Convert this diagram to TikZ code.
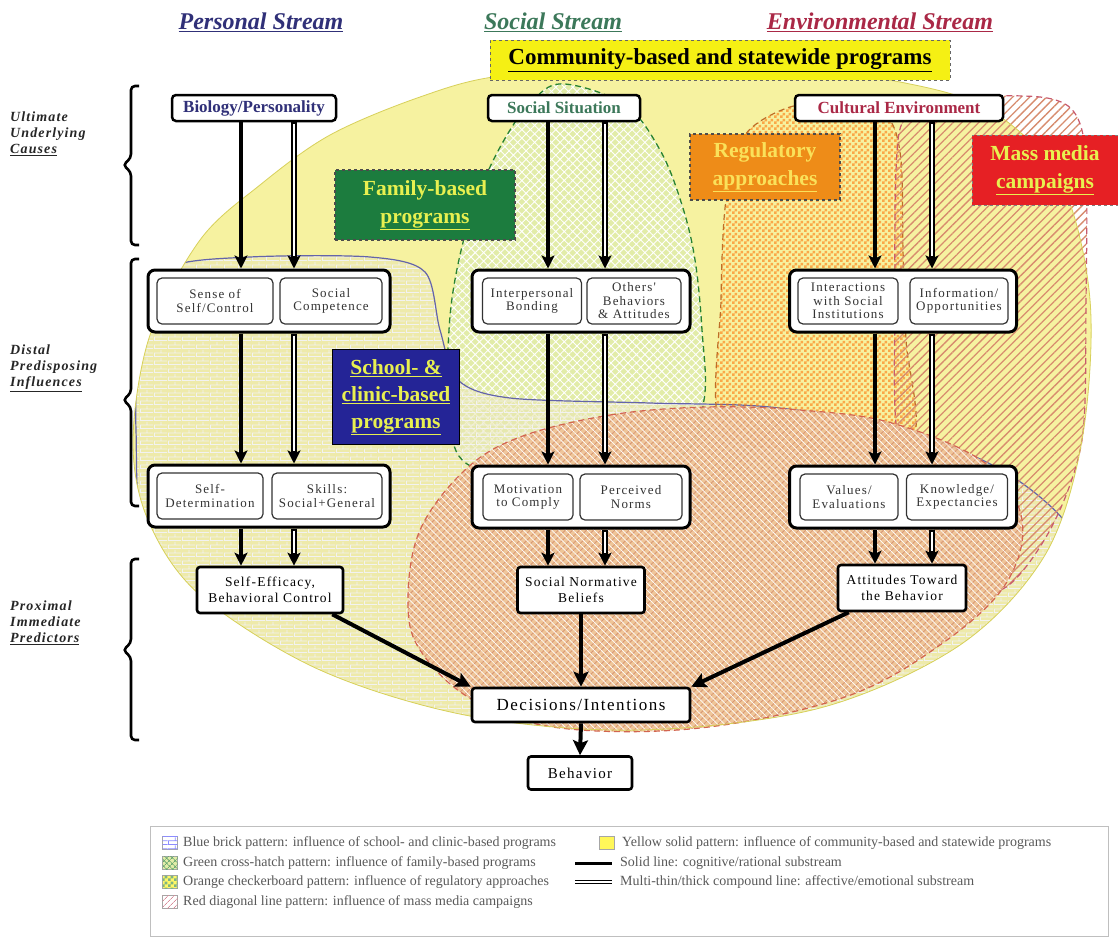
\documentclass[tikz,border=0pt]{standalone}
\usepackage{fontspec}
\setmainfont{Liberation Serif}
\newfontfamily\spaced[LetterSpace=9]{Liberation Serif}
\newfontfamily\lspaced[LetterSpace=8]{Liberation Serif}
\usetikzlibrary{arrows.meta,patterns,patterns.meta,calc}
\definecolor{ybg}{RGB}{246,242,160}
\definecolor{ylin}{RGB}{215,208,90}
\definecolor{brickfill}{RGB}{234,230,178}
\definecolor{greenfill}{RGB}{226,236,168}
\definecolor{salmon}{RGB}{240,194,150}
\definecolor{persC}{RGB}{48,48,120}
\definecolor{socC}{RGB}{60,120,90}
\definecolor{envC}{RGB}{170,40,70}
\definecolor{commY}{RGB}{245,240,20}
\definecolor{famG}{RGB}{28,124,62}
\definecolor{schB}{RGB}{36,36,150}
\definecolor{regO}{RGB}{238,140,24}
\definecolor{massR}{RGB}{230,32,36}
\definecolor{labY}{RGB}{232,240,80}
\definecolor{bline}{RGB}{100,100,170}
\definecolor{gline}{RGB}{40,130,50}
\definecolor{oline}{RGB}{190,110,40}
\definecolor{mline}{RGB}{200,90,110}
\definecolor{lline}{RGB}{210,100,80}
\definecolor{stripe}{RGB}{215,140,110}
\definecolor{lstripe}{RGB}{215,150,115}
\tikzdeclarepattern{name=mybricks, type=uncolored,
  bounding box={(0pt,0pt) and (14pt,8pt)}, tile size={(14pt,8pt)},
  code={\pgfsetlinewidth{0.9pt}
    \pgfpathmoveto{\pgfqpoint{0pt}{0.5pt}}\pgfpathlineto{\pgfqpoint{14pt}{0.5pt}}
    \pgfpathmoveto{\pgfqpoint{0pt}{4.5pt}}\pgfpathlineto{\pgfqpoint{14pt}{4.5pt}}
    \pgfpathmoveto{\pgfqpoint{0.5pt}{0.5pt}}\pgfpathlineto{\pgfqpoint{0.5pt}{4.5pt}}
    \pgfpathmoveto{\pgfqpoint{7.5pt}{4.5pt}}\pgfpathlineto{\pgfqpoint{7.5pt}{8pt}}
    \pgfusepath{stroke}}}
\tikzdeclarepattern{name=mychecker, type=uncolored,
  bounding box={(0pt,0pt) and (6pt,6pt)}, tile size={(6pt,6pt)},
  code={\pgfpathrectangle{\pgfpointorigin}{\pgfqpoint{3pt}{3pt}}
    \pgfpathrectangle{\pgfqpoint{3pt}{3pt}}{\pgfqpoint{3pt}{3pt}}
    \pgfusepath{fill}}}
\begin{document}
\begin{tikzpicture}[x=1pt,y=-1pt,
  hdr/.style={font=\fontsize{24}{27}\selectfont\bfseries\itshape, inner sep=1pt},
  lab/.style={font=\lspaced\fontsize{14}{16}\selectfont\bfseries\itshape, align=left, anchor=west, inner sep=0pt, text=black!85},
  brk/.style={line width=2.6pt, rounded corners=4pt},
  topbox/.style={draw, line width=2.5pt, rounded corners=4pt, fill=white, minimum height=26pt, inner sep=2pt, font=\fontsize{17}{19}\selectfont\bfseries},
  grp/.style={draw, line width=3pt, rounded corners=7pt, fill=white, minimum height=62pt},
  inbox/.style={draw=black!80, line width=1.2pt, rounded corners=5pt, fill=white, minimum height=46pt, inner sep=1pt, align=center, text=black!80, font=\spaced\fontsize{13}{13.5}\selectfont},
  prox/.style={draw, line width=2.6pt, rounded corners=3pt, fill=white, minimum height=46pt, inner sep=2pt, align=center, font=\spaced\fontsize{13.5}{15.5}\selectfont},
  prog/.style={align=center, text=labY, font=\fontsize{21.5}{28}\selectfont\bfseries, inner sep=2pt},
  arr/.style={line width=3.2pt, -{Stealth[length=13pt,width=13pt,inset=3pt]}},
  comp/.style={line width=5.5pt, -{Stealth[length=13pt,width=13pt,inset=3pt]}},
  compin/.style={white, line width=1.1pt, shorten >=13pt, shorten <=2pt},
  big/.style={line width=4pt, -{Stealth[length=15pt,width=15pt,inset=3pt]}},
  sw/.style={draw=gray!70, line width=0.6pt, minimum width=15pt, minimum height=13pt, inner sep=0pt},
  legt/.style={anchor=west, inner sep=0pt, text=black!65, font=\fontsize{14}{16}\selectfont}
]
\useasboundingbox (0,0) rectangle (1118,940);
\fill[white] (0,0) rectangle (1118,940);

\def\Ypath{plot[smooth cycle,tension=0.55] coordinates {(133,440) (150,335) (200,240) (260,185) (330,135) (420,97) (500,76) (640,68) (800,72) (900,82) (990,110) (1060,180) (1090,300) (1082,440) (1045,555) (960,645) (820,708) (640,730) (470,716) (320,670) (200,595) (148,520)}}
\def\Bpath{plot[smooth cycle,tension=0.5] coordinates {(136,430) (142,320) (168,268) (250,257) (370,257) (425,272) (440,330) (458,380) (510,398) (650,403) (770,407) (900,428) (1010,475) (1075,540) (1040,620) (900,700) (640,745) (420,730) (250,665) (150,560)}}
\def\Gpath{plot[smooth cycle,tension=0.6] coordinates {(565,84) (625,105) (660,150) (682,205) (695,260) (702,330) (704,400) (680,455) (580,475) (480,470) (450,430) (449,330) (460,255) (480,190) (507,135) (535,98)}}
\def\Opath{plot[smooth cycle,tension=0.5] coordinates {(722,430) (721,300) (726,200) (745,135) (790,107) (845,103) (888,118) (901,160) (903,250) (906,340) (912,440) (820,450)}}
\def\Mpath{plot[smooth cycle,tension=0.5] coordinates {(898,440) (895,300) (896,170) (905,118) (950,98) (1040,97) (1074,112) (1086,160) (1086,300) (1082,440) (1050,530) (1000,590) (940,560)}}
\def\Lpath{plot[smooth cycle,tension=0.6] coordinates {(520,437) (610,415) (706,407) (800,410) (892,423) (985,463) (1022,520) (1005,585) (940,645) (845,697) (700,728) (560,728) (473,700) (420,650) (408,600) (420,530) (465,470)}}

% influence regions
\fill[ybg] \Ypath;
\begin{scope}
  \clip \Ypath;
  \fill[greenfill] \Gpath;
  \fill[pattern={Hatch[angle=45,distance=6pt,line width=0.9pt]}, pattern color=white, fill opacity=0.7] \Gpath;
  \fill[brickfill, fill opacity=0.6] \Bpath;
  \fill[pattern=mybricks, pattern color=white!90!gray] \Bpath;
  \draw[gline, line width=1.3pt, dash pattern=on 6pt off 4pt] \Gpath;
  \draw[bline, line width=1.2pt] \Bpath;
\end{scope}
\fill[pattern=mychecker, pattern color=orange!85!red, fill opacity=0.55] \Opath;
\draw[oline, line width=1.2pt, dash pattern=on 6pt off 4pt] \Opath;
\fill[pattern={Lines[angle=45,distance=6pt,line width=1.3pt]}, pattern color=stripe, fill opacity=0.7] \Mpath;
\draw[mline, line width=1.2pt, dash pattern=on 6pt off 4pt] \Mpath;
\fill[salmon, fill opacity=0.9] \Lpath;
\fill[pattern={Lines[angle=45,distance=5pt,line width=0.9pt]}, pattern color=lstripe, fill opacity=0.25] \Lpath;
\fill[pattern={Lines[angle=-45,distance=5pt,line width=0.7pt]}, pattern color=white, fill opacity=0.3] \Lpath;
\draw[lline, line width=1.2pt, dash pattern=on 6pt off 4pt] \Lpath;
\draw[ylin, line width=0.8pt] \Ypath;

% headers
\node[hdr, text=persC] (h1) at (261,22) {\underline{Personal Stream}};
\node[hdr, text=socC] (h2) at (553,22) {\underline{Social Stream}};
\node[hdr, text=envC] (h3) at (880,22) {\underline{Environmental Stream}};

% program boxes
\node[fill=commY, draw=black!60, line width=1pt, dashed, minimum width=460pt, minimum height=40pt, font=\fontsize{23}{25}\selectfont\bfseries] (comm) at (720,60) {\underline{Community-based and statewide programs}};
\node[prog, fill=famG, draw=black!70, line width=1.2pt, dashed, minimum width=180pt, minimum height=70pt] (fam) at (425,205) {Family-based\\\underline{programs}};
\node[prog, fill=schB, draw=black, line width=1pt, minimum width=127pt, minimum height=95pt, font=\fontsize{21.5}{27}\selectfont\bfseries] (sch) at (396,397) {\underline{School- \&}\\\underline{clinic-based}\\\underline{programs}};
\node[prog, text={rgb,255:red,250;green,225;blue,90}, fill=regO, draw=black!70, line width=1.4pt, dashed, minimum width=150pt, minimum height=66pt] (reg) at (765,167) {Regulatory\\\underline{approaches}};
\node[prog, fill=massR, draw=black!50, line width=1pt, dashed, minimum width=146pt, minimum height=70pt] (mass) at (1045,170) {Mass media\\\underline{campaigns}};

% left brackets and labels
\draw[brk] (139,86) -- (131,86) -- (131,158) -- (123,165) -- (131,172) -- (131,245) -- (139,245);
\draw[brk] (139,259) -- (131,259) -- (131,393) -- (123,400) -- (131,407) -- (131,506) -- (139,506);
\draw[brk] (139,559) -- (131,559) -- (131,643) -- (123,650) -- (131,657) -- (131,740) -- (139,740);
\node[lab] (l1) at (10,134) {Ultimate\\Underlying\\\underline{Causes}};
\node[lab] (l2) at (10,368) {Distal\\Predisposing\\\underline{Influences}};
\node[lab] (l3) at (10,623) {Proximal\\Immediate\\\underline{Predictors}};

% top boxes
\node[topbox, text=persC, minimum width=164pt] (bio) at (254,108) {Biology/Personality};
\node[topbox, text=socC, minimum width=152pt] (soc) at (564,108) {Social Situation};
\node[topbox, text=envC, minimum width=208pt] (cult) at (899,108) {Cultural Environment};

% distal groups
\node[grp, minimum width=242pt] (g1p) at (269,301) {};
\node[inbox, minimum width=116pt] (sense) at (215,301) {Sense of\\Self/Control};
\node[inbox, minimum width=102pt] (scomp) at (331,301) {Social\\Competence};
\node[grp, minimum width=242pt] (g2p) at (269,496) {};
\node[inbox, minimum width=106pt] (sdet) at (210,496) {Self-\\Determination};
\node[inbox, minimum width=110pt] (skills) at (327,496) {Skills:\\Social+General};

\node[grp, minimum width=218pt] (g1s) at (581,301) {};
\node[inbox, minimum width=99pt] (ibond) at (532,301) {Interpersonal\\Bonding};
\node[inbox, minimum width=94pt] (others) at (634,301) {Others'\\Behaviors\\\& Attitudes};
\node[grp, minimum width=218pt] (g2s) at (581,497) {};
\node[inbox, minimum width=90pt] (motiv) at (528,497) {Motivation\\to Comply};
\node[inbox, minimum width=102pt] (pnorm) at (631,497) {Perceived\\Norms};

\node[grp, minimum width=227pt] (g1e) at (903,301) {};
\node[inbox, minimum width=100pt] (inter) at (848,301) {Interactions\\with Social\\Institutions};
\node[inbox, minimum width=98pt] (info) at (959,301) {Information/\\Opportunities};
\node[grp, minimum width=227pt] (g2e) at (903,497) {};
\node[inbox, minimum width=98pt] (values) at (849,497) {Values/\\Evaluations};
\node[inbox, minimum width=101pt] (know) at (957,497) {Knowledge/\\Expectancies};

% proximal and outcome
\node[prox, minimum width=146pt] (seff) at (270,590) {Self-Efficacy,\\Behavioral Control};
\node[prox, minimum width=127pt] (snb) at (581,590) {Social Normative\\Beliefs};
\node[prox, minimum width=128pt] (att) at (902,588) {Attitudes Toward\\the Behavior};
\node[prox, minimum width=218pt, minimum height=34pt, font=\spaced\fontsize{17}{19}\selectfont] (dec) at (581,705) {Decisions/Intentions};
\node[prox, minimum width=104pt, minimum height=33pt, font=\spaced\fontsize{15}{17}\selectfont] (beh) at (580,773) {Behavior};

% arrow columns
\coordinate (pS) at (241,0); \coordinate (pC) at (294,0);
\coordinate (sS) at (548,0); \coordinate (sC) at (605,0);
\coordinate (eS) at (875,0); \coordinate (eC) at (932,0);

\draw[arr] (bio.south -| pS) -- (g1p.north -| pS);
\draw[comp] (bio.south -| pC) -- (g1p.north -| pC);
\draw[compin] (bio.south -| pC) -- (g1p.north -| pC);
\draw[arr] (g1p.south -| pS) -- (g2p.north -| pS);
\draw[comp] (g1p.south -| pC) -- (g2p.north -| pC);
\draw[compin] (g1p.south -| pC) -- (g2p.north -| pC);
\draw[arr] (g2p.south -| pS) -- (seff.north -| pS);
\draw[comp] (g2p.south -| pC) -- (seff.north -| pC);
\draw[compin] (g2p.south -| pC) -- (seff.north -| pC);

\draw[arr] (soc.south -| sS) -- (g1s.north -| sS);
\draw[comp] (soc.south -| sC) -- (g1s.north -| sC);
\draw[compin] (soc.south -| sC) -- (g1s.north -| sC);
\draw[arr] (g1s.south -| sS) -- (g2s.north -| sS);
\draw[comp] (g1s.south -| sC) -- (g2s.north -| sC);
\draw[compin] (g1s.south -| sC) -- (g2s.north -| sC);
\draw[arr] (g2s.south -| sS) -- (snb.north -| sS);
\draw[comp] (g2s.south -| sC) -- (snb.north -| sC);
\draw[compin] (g2s.south -| sC) -- (snb.north -| sC);

\draw[arr] (cult.south -| eS) -- (g1e.north -| eS);
\draw[comp] (cult.south -| eC) -- (g1e.north -| eC);
\draw[compin] (cult.south -| eC) -- (g1e.north -| eC);
\draw[arr] (g1e.south -| eS) -- (g2e.north -| eS);
\draw[comp] (g1e.south -| eC) -- (g2e.north -| eC);
\draw[compin] (g1e.south -| eC) -- (g2e.north -| eC);
\draw[arr] (g2e.south -| eS) -- (att.north -| eS);
\draw[comp] (g2e.south -| eC) -- (att.north -| eC);
\draw[compin] (g2e.south -| eC) -- (att.north -| eC);

\draw[big] ($(seff.south east)+(-12,0)$) -- (dec.north west);
\draw[big] (snb.south) -- (dec.north);
\draw[big] ($(att.south west)+(12,0)$) -- (dec.north east);
\draw[big] (dec.south) -- (beh.north);

% legend
\node[draw=gray!50, line width=0.9pt, minimum width=958pt, minimum height=110pt, inner sep=0pt] (leg) at (629,881) {};
\node[sw, fill=white, postaction={pattern=mybricks, pattern color=blue!45}] (sw1) at (170,843) {};
\node[sw, fill=greenfill, postaction={pattern={Hatch[angle=45,distance=4pt,line width=0.7pt]}, pattern color=gline!70}] (sw2) at (170,863) {};
\node[sw, fill=yellow!60, postaction={pattern=mychecker, pattern color=gline!60}] (sw3) at (170,882) {};
\node[sw, fill=white, postaction={pattern={Lines[angle=45,distance=4pt,line width=0.8pt]}, pattern color=mline!70}] (sw4) at (170,902) {};
\node[legt] (t1) at (183,843) {Blue brick pattern: influence of school- and clinic-based programs};
\node[legt] (t2) at (183,863) {Green cross-hatch pattern: influence of family-based programs};
\node[legt] (t3) at (183,882) {Orange checkerboard pattern: influence of regulatory approaches};
\node[legt] (t4) at (183,902) {Red diagonal line pattern: influence of mass media campaigns};
\node[sw, fill=yellow!65] (sw5) at (607,843) {};
\draw[line width=3pt] (575,863) -- (612,863);
\draw[line width=4.5pt] (575,882) -- (612,882);
\draw[white, line width=1.2pt] (575,882) -- (612,882);
\node[legt] (t5) at (622,843) {Yellow solid pattern: influence of community-based and statewide programs};
\node[legt] (t6) at (620,863) {Solid line: cognitive/rational substream};
\node[legt] (t7) at (620,882) {Multi-thin/thick compound line: affective/emotional substream};
\end{tikzpicture}
\end{document}
